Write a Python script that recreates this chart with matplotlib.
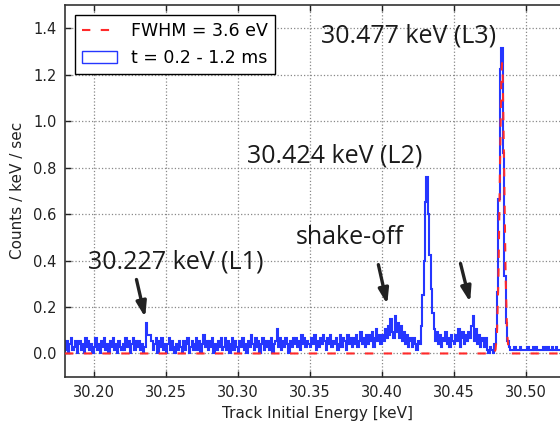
import numpy as np
import matplotlib
matplotlib.use('Agg')
import matplotlib.pyplot as plt

# Histogram: counts per 1 eV bin starting at 30.180 keV (one row = 10 eV)
bin_start = 30.180
bin_width = 0.001
counts = [
    1, 4, 0, 3, 5, 1, 2, 4, 0, 3,
    4, 1, 3, 0, 5, 2, 4, 1, 3, 0,
    2, 5, 1, 3, 0, 4, 2, 5, 1, 3,
    0, 4, 2, 5, 1, 3, 0, 4, 2, 1,
    3, 1, 5, 2, 4, 0, 3, 5, 1, 4,
    2, 4, 1, 3, 0, 2, 10, 6, 6, 6,
    4, 1, 3, 5, 0, 4, 2, 5, 1, 3,
    0, 3, 5, 1, 4, 2, 0, 3, 1, 4,
    2, 0, 4, 1, 3, 5, 0, 2, 4, 1,
    3, 5, 1, 4, 0, 3, 6, 2, 4, 1,
    4, 2, 5, 0, 3, 1, 4, 2, 5, 1,
    2, 5, 1, 4, 0, 3, 5, 1, 4, 2,
    0, 4, 2, 5, 1, 3, 0, 4, 2, 6,
    3, 1, 5, 2, 4, 0, 3, 5, 1, 4,
    2, 4, 1, 5, 0, 3, 4, 8, 2, 5,
    1, 4, 2, 5, 3, 0, 4, 2, 5, 3,
    5, 2, 4, 1, 6, 3, 5, 2, 4, 3,
    2, 5, 3, 6, 1, 4, 2, 5, 3, 6,
    4, 1, 5, 3, 6, 2, 4, 3, 5, 1,
    3, 6, 2, 5, 4, 1, 6, 3, 5, 2,
    5, 3, 6, 2, 4, 7, 3, 5, 2, 6,
    3, 6, 4, 7, 2, 5, 8, 4, 6, 3,
    6, 4, 8, 5, 9, 6, 11, 7, 5, 12,
    7, 10, 5, 9, 4, 7, 3, 6, 2, 5,
    4, 2, 5, 3, 1, 4, 3, 9, 19, 30,
    49, 57, 45, 32, 21, 13, 8, 4, 7, 3,
    6, 2, 5, 4, 7, 3, 5, 2, 6, 4,
    3, 6, 4, 8, 2, 5, 7, 3, 6, 4,
    7, 5, 9, 12, 4, 8, 3, 6, 2, 5,
    4, 2, 5, 1, 0, 2, 1, 0, 3, 8,
    20, 50, 92, 99, 65, 25, 10, 4, 2, 1,
    1, 1, 2, 1, 1, 1, 2, 1, 1, 1,
    1, 2, 1, 1, 1, 2, 1, 2, 1, 1,
    1, 1, 2, 1, 1, 2, 1, 1, 2, 1,
    1, 2, 1, 1, 1, 1, 2, 1, 1, 1,
]
rate_per_count = 0.0133  # counts / keV / sec for one count

# FWHM = 3.6 eV line shape of L3, sampled points
fit_x = [30.180, 30.478, 30.479, 30.480, 30.481, 30.482, 30.483, 30.4835,
         30.484, 30.485, 30.486, 30.487, 30.488, 30.489, 30.530]
fit_y = [0.0, 0.0, 0.017, 0.09, 0.33, 0.77, 1.19, 1.25,
         1.19, 0.77, 0.33, 0.09, 0.017, 0.0, 0.0]

xticks = [30.20, 30.25, 30.30, 30.35, 30.40, 30.45, 30.50]
yticks = [0.0, 0.2, 0.4, 0.6, 0.8, 1.0, 1.2, 1.4]

edges = bin_start + bin_width * np.arange(len(counts) + 1)
centers = 0.5 * (edges[:-1] + edges[1:])
rate = np.array(counts) * rate_per_count

fig = plt.figure(figsize=(5.6, 4.23), dpi=100)
ax = fig.add_axes([65/560, 46.3/423, 504/560, 371.7/423])

ax.plot(fit_x, fit_y, color='#ff2a2a', lw=1.5, dashes=(4, 5),
        label='FWHM = 3.6 eV', zorder=3)
ax.hist(centers, bins=edges, weights=rate, histtype='step',
        color='#2536ff', lw=1.5, label='t = 0.2 - 1.2 ms', zorder=2)

ax.set_xlim([30.18, 30.53])
ax.set_ylim([-0.1, 1.5])
ax.set_xticks(xticks)
ax.set_xticklabels(['%.2f' % t for t in xticks])
ax.set_yticks(yticks)
ax.set_yticklabels(['%.1f' % t for t in yticks])
ax.tick_params(direction='in', length=4, width=1, top=True, right=True,
               labelsize=10.5, colors='#222222', pad=6)
for s in ax.spines.values():
    s.set_linewidth(1.2)
    s.set_color('#333333')
ax.grid(True, color='#888888', linestyle=':', lw=0.9)

ax.set_xlabel('Track Initial Energy [keV]', fontsize=11, color='#222222', labelpad=4)
ax.set_ylabel('Counts / keV / sec', fontsize=11, color='#222222', labelpad=6)

leg = ax.legend(loc='upper left', fontsize=12.5, fancybox=False,
                edgecolor='black', framealpha=1, borderaxespad=0.6)
leg.get_frame().set_linewidth(1.0)
leg.get_patches()[0].set_linewidth(1.0)

# Annotations
tk = dict(fontsize=18, family=['Open Sans', 'DejaVu Sans'], color='#1a1a1a',
          va='center', ha='left')
ax.text(30.1958, 0.395, '30.227 keV (L1)', **tk)
ax.text(30.3403, 0.498, 'shake-off', **tk)
ax.text(30.3063, 0.848, '30.424 keV (L2)', **tk)
ax.text(30.3576, 1.366, '30.477 keV (L3)', **tk)

arrow = dict(arrowstyle='-|>,head_length=0.9,head_width=0.3', color='#222222', lw=2.4)
ax.annotate('', xy=(30.2361, 0.144), xytext=(30.2292, 0.330), arrowprops=arrow)
ax.annotate('', xy=(30.4042, 0.200), xytext=(30.3972, 0.394), arrowprops=arrow)
ax.annotate('', xy=(30.4618, 0.209), xytext=(30.4542, 0.399), arrowprops=arrow)

plt.savefig('out.png', dpi=100)
